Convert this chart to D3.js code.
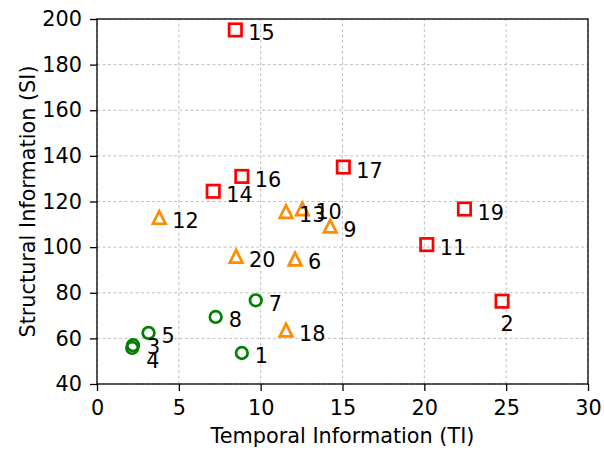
<!DOCTYPE html>
<html>
<head>
<meta charset="utf-8">
<script src="https://cdn.jsdelivr.net/npm/d3@7"></script>
<style>
  html, body { margin: 0; padding: 0; background: #fff; }
  svg text { font-family: "DejaVu Sans", sans-serif; fill: #000; }
</style>
</head>
<body>
<svg id="chart" width="604" height="450"></svg>
<script>
// Sequence ids, TI / SI measurements and complexity group per sequence
const ids = [1, 2, 3, 4, 5, 6, 7, 8, 9, 10, 11, 12, 13, 14, 15, 16, 17, 18, 19, 20];
const ti = [8.85, 24.75, 2.2, 2.15, 3.15, 12.1, 9.7, 7.25, 14.25, 12.55, 20.15, 3.8, 11.55, 7.1, 8.45, 8.85, 15.05, 11.55, 22.45, 8.5];
const si = [53.6, 76.3, 57.0, 55.8, 62.4, 94.8, 76.7, 69.4, 109.2, 116.8, 101.1, 113.0, 115.6, 124.5, 195.2, 131.0, 135.1, 63.6, 116.7, 96.0];
const group = ["low", "high", "low", "low", "low", "mid", "low", "low", "mid", "mid",
               "high", "mid", "mid", "high", "high", "high", "high", "mid", "high", "mid"];
const xTicks = [0, 5, 10, 15, 20, 25, 30];
const yTicks = [40, 60, 80, 100, 120, 140, 160, 180, 200];

const groupColor = { low: "#008000", mid: "#ff8c00", high: "#ff0000" };

const svg = d3.select("#chart");
const margin = { left: 97, right: 16, top: 19, bottom: 66 };
const W = 604, H = 450;
const FONT = 20.8;

const x = d3.scaleLinear().domain([0, 30]).range([margin.left, W - margin.right]);
const y = d3.scaleLinear().domain([40, 200]).range([H - margin.bottom, margin.top]);

// grid
const grid = svg.append("g").attr("stroke", "#b0b0b0").attr("stroke-width", 0.8)
  .attr("stroke-dasharray", "3,2.5");
grid.selectAll(".gx").data(xTicks).join("line")
  .attr("x1", d => x(d)).attr("x2", d => x(d))
  .attr("y1", y(40)).attr("y2", y(200));
grid.selectAll(".gy").data(yTicks).join("line")
  .attr("x1", x(0)).attr("x2", x(30))
  .attr("y1", d => y(d)).attr("y2", d => y(d));

// points
const pts = svg.append("g").attr("fill", "none").attr("stroke-width", 2.7);
ids.forEach((id, i) => {
  const cx = x(ti[i]), cy = y(si[i]);
  const c = groupColor[group[i]];
  if (group[i] === "low") {
    pts.append("circle").attr("cx", cx).attr("cy", cy).attr("r", 5.8).attr("stroke", c);
  } else if (group[i] === "high") {
    pts.append("rect").attr("x", cx - 6.2).attr("y", cy - 6.2)
      .attr("width", 12.4).attr("height", 12.4).attr("stroke", c);
  } else {
    const s = 6.3;
    pts.append("path")
      .attr("d", `M${cx},${cy - s}L${cx + s},${cy + s}L${cx - s},${cy + s}Z`)
      .attr("stroke", c).attr("stroke-linejoin", "miter");
  }
});

// point labels (a few are nudged to avoid overlapping neighbours)
const labelShift = { 2: [-1.5, 30], 3: [14, 9], 4: [14, 20] };
const labels = svg.append("g").attr("font-size", FONT);
ids.forEach((id, i) => {
  const [dx, dy] = labelShift[id] || [13, 10.5];
  labels.append("text")
    .attr("x", x(ti[i]) + dx).attr("y", y(si[i]) + dy)
    .text(id);
});

// axes
const xAxis = svg.append("g").attr("transform", `translate(0,${y(40)})`)
  .call(d3.axisBottom(x).tickValues(xTicks).tickSize(7).tickPadding(9));
const yAxis = svg.append("g").attr("transform", `translate(${x(0)},0)`)
  .call(d3.axisLeft(y).tickValues(yTicks).tickSize(7).tickPadding(8));
[xAxis, yAxis].forEach(a => {
  a.selectAll("text").attr("font-size", FONT).attr("font-family", "DejaVu Sans").attr("fill", "#000");
  a.selectAll("line").attr("stroke", "#000").attr("stroke-width", 1.3);
  a.select(".domain").remove();
});

// frame
svg.append("rect").attr("x", x(0)).attr("y", y(200))
  .attr("width", x(30) - x(0)).attr("height", y(40) - y(200))
  .attr("fill", "none").attr("stroke", "#000").attr("stroke-width", 1.3);

// axis titles
svg.append("text").attr("x", (x(0) + x(30)) / 2).attr("y", 443)
  .attr("text-anchor", "middle").attr("font-size", FONT)
  .text("Temporal Information (TI)");
svg.append("text")
  .attr("transform", `translate(35,${(y(40) + y(200)) / 2}) rotate(-90)`)
  .attr("text-anchor", "middle").attr("font-size", FONT)
  .text("Structural Information (SI)");
</script>
</body>
</html>
